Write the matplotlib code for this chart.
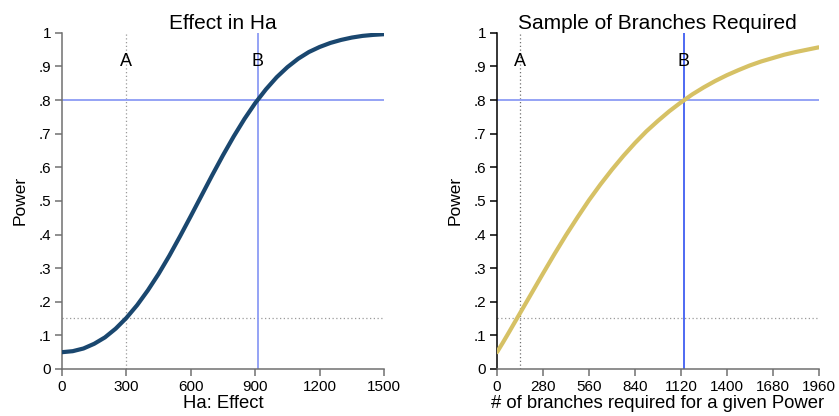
import matplotlib
matplotlib.use("Agg")
import matplotlib.pyplot as plt

plt.rcParams['font.family'] = ['Liberation Sans', 'DejaVu Sans']

# left panel: power vs effect size
effect = [0, 50, 100, 150, 200, 250, 300, 350, 400, 450, 500, 550, 600, 650, 700,
          750, 800, 850, 900, 950, 1000, 1050, 1100, 1150, 1200, 1250, 1300, 1350,
          1400, 1450, 1500]
power_effect = [0.050, 0.053, 0.061, 0.075, 0.094, 0.120, 0.152, 0.190, 0.234, 0.283,
                0.337, 0.395, 0.455, 0.516, 0.577, 0.636, 0.692, 0.744, 0.791, 0.832,
                0.868, 0.898, 0.923, 0.943, 0.958, 0.970, 0.979, 0.986, 0.991, 0.994,
                0.996]

# right panel: power vs number of branches
branches = [0, 35, 70, 140, 210, 280, 350, 420, 490, 560, 630, 700, 770, 840, 910,
            980, 1050, 1120, 1190, 1260, 1330, 1400, 1470, 1540, 1610, 1680, 1750,
            1820, 1890, 1960]
power_branches = [0.050, 0.078, 0.107, 0.166, 0.225, 0.284, 0.342, 0.398, 0.451, 0.502,
                  0.549, 0.593, 0.634, 0.672, 0.707, 0.738, 0.767, 0.793, 0.817, 0.838,
                  0.857, 0.874, 0.889, 0.903, 0.915, 0.925, 0.935, 0.943, 0.950, 0.957]

power_target = 0.8
power_low = 0.152
effect_A, effect_B = 300, 911
branches_A, branches_B = 140, 1138

yticks = [0, .1, .2, .3, .4, .5, .6, .7, .8, .9, 1]
ytick_labels = ['0', '.1', '.2', '.3', '.4', '.5', '.6', '.7', '.8', '.9', '1']
xticks_left = [0, 300, 600, 900, 1200, 1500]
xticks_right = [0, 280, 560, 840, 1120, 1400, 1680, 1960]

fig = plt.figure(figsize=(8.39, 4.16), dpi=100)
ax1 = fig.add_axes([0.0739, 0.113, 0.3838, 0.808])
ax2 = fig.add_axes([0.5924, 0.113, 0.3834, 0.808])


def style(ax, xmax, xticks, left_col, bottom_col):
    ax.set_xlim(0, xmax)
    ax.set_ylim(0, 1)
    for s in ['top', 'right']:
        ax.spines[s].set_visible(False)
    ax.spines['left'].set_color(left_col)
    ax.spines['bottom'].set_color(bottom_col)
    ax.spines['left'].set_linewidth(1.1)
    ax.spines['bottom'].set_linewidth(1.1)
    ax.set_yticks(yticks)
    ax.set_yticklabels(ytick_labels)
    ax.set_xticks(xticks)
    ax.tick_params(axis='y', colors=left_col, labelcolor='black', labelsize=11,
                   length=5, width=1.1, pad=3)
    ax.tick_params(axis='x', colors=bottom_col, labelcolor='black', labelsize=11,
                   length=5, width=1.1, pad=3)
    ax.set_ylabel('Power', fontsize=12.5, labelpad=8)


# left panel
ax1.axvline(effect_A, color='#9a9a9a', lw=0.9, ls=(0, (1, 2)))
ax1.axhline(power_low, color='#9a9a9a', lw=0.9, ls=(0, (1, 2)))
ax1.axvline(effect_B, color='#8c9cf5', lw=1.3)
ax1.axhline(power_target, color='#8c9cf5', lw=1.3)
ax1.plot(effect, power_effect, color='#1a476f', lw=3, solid_capstyle='round',
         solid_joinstyle='round', zorder=5)
ax1.text(effect_A, 0.915, 'A', ha='center', va='center', fontsize=13)
ax1.text(effect_B, 0.915, 'B', ha='center', va='center', fontsize=13)
ax1.set_title('Effect in Ha', fontsize=15, pad=3)
ax1.set_xlabel('Ha: Effect', fontsize=13.3, labelpad=1)
style(ax1, 1500, xticks_left, '#707070', '#707070')

# right panel
ax2.axvline(branches_A, color='#707070', lw=0.9, ls=(0, (1, 2)))
ax2.axhline(power_low, color='#9a9a9a', lw=0.9, ls=(0, (1, 2)))
ax2.axvline(branches_B, color='#3050f0', lw=1.2)
ax2.axhline(power_target, color='#8c9cf5', lw=1.3)
ax2.plot(branches, power_branches, color='#d6c165', lw=3, solid_capstyle='round',
         solid_joinstyle='round', zorder=5)
ax2.text(branches_A, 0.915, 'A', ha='center', va='center', fontsize=13)
ax2.text(branches_B, 0.915, 'B', ha='center', va='center', fontsize=13)
ax2.set_title('Sample of Branches Required', fontsize=15, pad=3)
ax2.set_xlabel('# of branches required for a given Power', fontsize=13.3, labelpad=1)
style(ax2, 1960, xticks_right, '#000000', '#707070')

fig.savefig('out.png', dpi=100)
